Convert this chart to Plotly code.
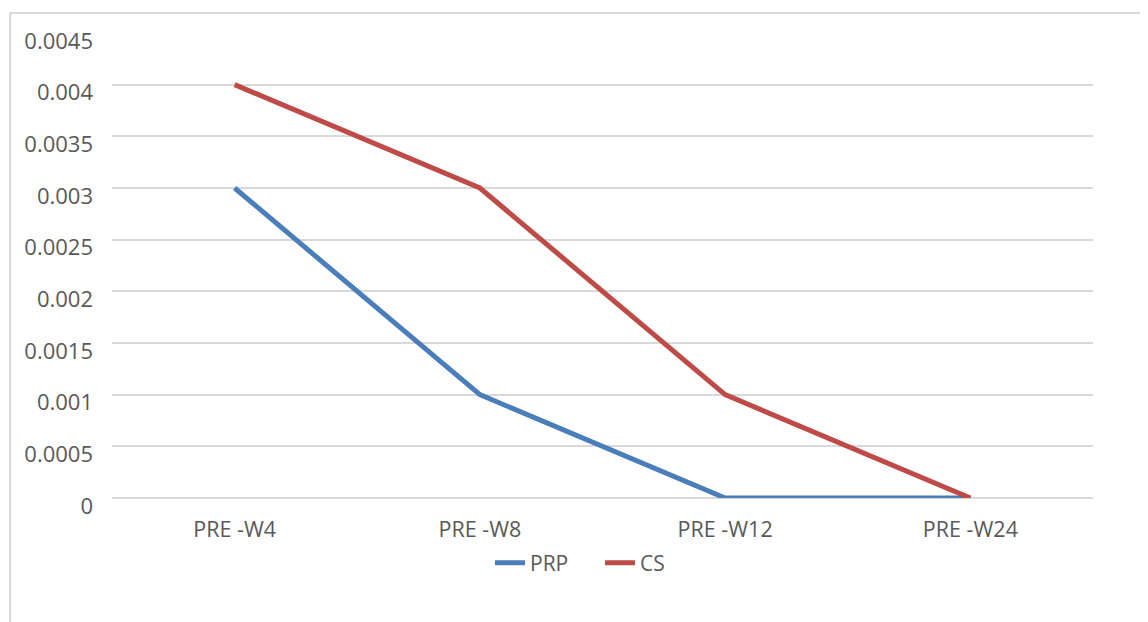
import plotly.graph_objects as go

categories = ["PRE -W4", "PRE -W8", "PRE -W12", "PRE -W24"]
prp = [0.003, 0.001, 0.0, 0.0]
cs = [0.004, 0.003, 0.001, 0.0]
y_ticks = [0, 0.0005, 0.001, 0.0015, 0.002, 0.0025, 0.003, 0.0035, 0.004, 0.0045]
y_tick_labels = ["0", "0.0005", "0.001", "0.0015", "0.002", "0.0025", "0.003", "0.0035", "0.004", "0.0045"]

font_family = "Open Sans, Liberation Sans, sans-serif"
text_color = "#595959"

W, H = 1140, 614
L, T, R, B = 104, 25, 55, 124
PW, PH = W - L - R, H - T - B

fig = go.Figure()
fig.add_trace(go.Scatter(x=categories, y=prp, mode="lines", name="PRP",
                         line=dict(color="#4A7EBB", width=5)))
fig.add_trace(go.Scatter(x=categories, y=cs, mode="lines", name="CS",
                         line=dict(color="#BE4B48", width=5)))

fig.update_layout(
    width=W, height=H,
    margin=dict(l=L, r=R, t=T, b=B),
    paper_bgcolor="white", plot_bgcolor="white",
    font=dict(family=font_family, size=21, color=text_color),
    showlegend=True,
    legend=dict(orientation="h", x=(482 - 104) / PW, xanchor="left",
                y=-0.0957, yanchor="top",
                font=dict(size=21, color=text_color), itemwidth=30,
                entrywidth=65, entrywidthmode="pixels",
                tracegroupgap=0),
    xaxis=dict(type="category", range=[-0.5, 3.5], showgrid=False, showline=False,
               ticks="", ticklabelstandoff=16,
               tickfont=dict(size=21.5, color=text_color), zeroline=False),
    yaxis=dict(range=[0, 0.0045], tickvals=y_ticks, ticktext=y_tick_labels,
               showgrid=True, gridcolor="#D9D9D9", gridwidth=1.5,
               zeroline=True, zerolinecolor="#D9D9D9", zerolinewidth=1.5,
               showline=False, ticks="", ticklabelstandoff=18, ticklabelshift=8,
               tickfont=dict(size=22, color=text_color)),
)

# outer chart border (light gray), extends past the window at right/bottom
fig.add_shape(type="line", xref="paper", yref="paper",
              x0=(2 - L) / PW, x1=(1160 - L) / PW,
              y0=(PH + T - 5) / PH, y1=(PH + T - 5) / PH,
              line=dict(color="#D9D9D9", width=2))
fig.add_shape(type="line", xref="paper", yref="paper",
              x0=(2 - L) / PW, x1=(2 - L) / PW,
              y0=(PH + T - 5) / PH, y1=-(B + 20) / PH,
              line=dict(color="#D9D9D9", width=2))

fig.write_html("out.html")
